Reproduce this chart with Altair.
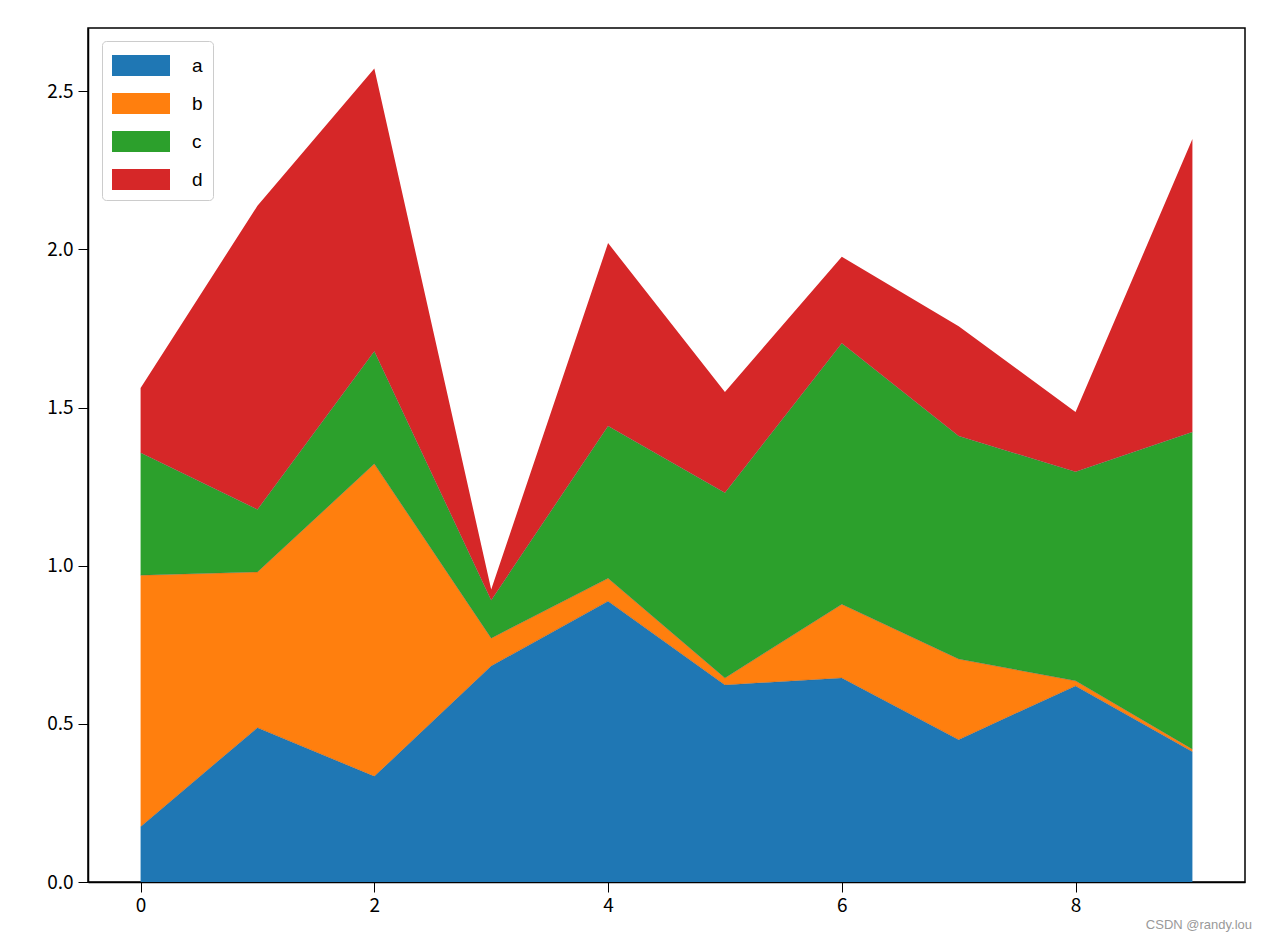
import altair as alt
import pandas as pd

xs = list(range(10))
series = ["a", "b", "c", "d"]
colors = ["#1f77b4", "#ff7f0e", "#2ca02c", "#d62728"]
a_vals = [0.175, 0.488, 0.334, 0.683, 0.888, 0.623, 0.645, 0.450, 0.620, 0.412]
b_vals = [0.795, 0.492, 0.988, 0.088, 0.072, 0.022, 0.233, 0.255, 0.016, 0.008]
c_vals = [0.387, 0.198, 0.356, 0.120, 0.482, 0.586, 0.825, 0.705, 0.661, 1.003]
d_vals = [0.205, 0.960, 0.894, 0.034, 0.578, 0.318, 0.274, 0.347, 0.189, 0.926]
x_ticks = [0, 2, 4, 6, 8]
y_ticks = [0.0, 0.5, 1.0, 1.5, 2.0, 2.5]
watermark = "CSDN @randy.lou"

rows = []
for k, (name, vals) in enumerate(zip(series, [a_vals, b_vals, c_vals, d_vals])):
    for x, v in zip(xs, vals):
        rows.append({"x": x, "series": name, "value": v, "order": k})
df = pd.DataFrame(rows)

tick_font = "Noto Sans CJK SC"

x_enc = alt.X(
    "x:Q",
    scale=alt.Scale(domain=[-0.45, 9.45], nice=False, zero=False),
    axis=alt.Axis(values=x_ticks, title=None, grid=False, format="d",
                  domainColor="black", domainWidth=1.5, tickColor="black", tickSize=10,
                  labelFontSize=19, labelFont=tick_font, labelColor="black",
                  labelPadding=4),
)

area = alt.Chart(df).mark_area(opacity=1).encode(
    x=x_enc,
    y=alt.Y(
        "value:Q", stack="zero",
        scale=alt.Scale(domain=[0, 2.7], nice=False),
        axis=alt.Axis(values=y_ticks, title=None, grid=False, format=".1f",
                      domainColor="black", domainWidth=1.5, tickColor="black", tickSize=10,
                      labelFontSize=19, labelFont=tick_font, labelColor="black",
                      labelPadding=5),
    ),
    color=alt.Color(
        "series:N",
        scale=alt.Scale(domain=series, range=colors),
        legend=alt.Legend(
            orient="none", legendX=14, legendY=13, title=None,
            symbolType="M-1,-0.72L3,-0.72L3,0.72L-1,0.72Z",
            symbolSize=841, symbolStrokeWidth=0, symbolOpacity=1,
            labelFontSize=19, labelFont="Liberation Sans", labelColor="black",
            labelOffset=51, rowPadding=13,
            labelExpr="datum.label + '  '",
            strokeColor="#cccccc", fillColor="white", cornerRadius=4,
            padding=10,
        ),
    ),
    order=alt.Order("order:Q", sort="ascending"),
)

lines = alt.Chart(df).transform_window(
    cum="sum(value)", groupby=["x"], sort=[alt.SortField("order")], frame=[None, 0]
).transform_filter(alt.datum.series != "d").mark_line(
    color="#555555", strokeWidth=1, opacity=0.3
).encode(
    x=alt.X("x:Q"),
    y=alt.Y("cum:Q"),
    detail="series:N",
)

wm = alt.Chart(pd.DataFrame({"t": [watermark]})).mark_text(
    align="right", baseline="middle", fontSize=13, color="#999999",
    font="Liberation Sans"
).encode(text="t:N", x=alt.value(1164), y=alt.value(897))

chart = alt.layer(area, lines, wm).properties(
    width=1157, height=854,
    background="white",
    autosize=alt.AutoSizeParams(type="none"),
    padding={"left": 88, "top": 28, "right": 16, "bottom": 59},
).configure_view(stroke="#000000", strokeWidth=1.5, strokeOpacity=1)

chart.save("out.html", embed_options={"renderer": "svg", "actions": False})
